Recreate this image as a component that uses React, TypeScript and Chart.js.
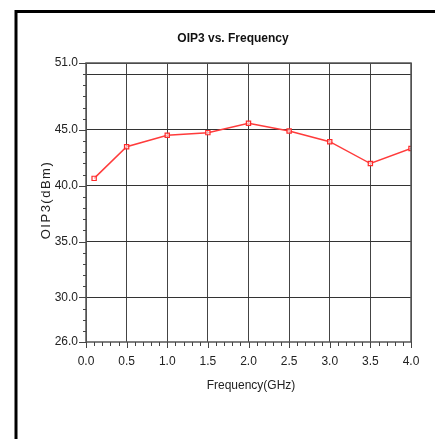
import React, { useEffect, useRef } from "react";
import { Chart, registerables } from "chart.js";

Chart.register(...registerables);

const frequencies = [0.1, 0.5, 1.0, 1.5, 2.0, 2.5, 3.0, 3.5, 4.0];
const oip3 = [40.66, 43.5, 44.52, 44.76, 45.6, 44.9, 43.95, 41.99, 43.34];
const yTickValues = [26, 30, 35, 40, 45, 50, 51];
const yLabelledValues = [26, 30, 35, 40, 45, 51];
const yGridValues = [30, 35, 40, 45, 50];

const TITLE = "OIP3 vs. Frequency";
const X_TITLE = "Frequency(GHz)";
const Y_TITLE = "OIP3(dBm)";

const FONT = "'Liberation Sans', Arial, sans-serif";

const decorPlugin = {
  id: "decor",
  beforeDraw(chart: any) {
    const ctx = chart.ctx;
    ctx.save();
    ctx.fillStyle = "#ffffff";
    ctx.fillRect(0, 0, chart.width, chart.height);
    ctx.restore();
  },
  afterDraw(chart: any) {
    const ctx = chart.ctx;
    const { left, right, top, bottom } = chart.chartArea;
    const xs = chart.scales.x;
    const ys = chart.scales.y;
    ctx.save();
    // outer frame
    ctx.strokeStyle = "#000";
    ctx.lineWidth = 3;
    ctx.beginPath();
    ctx.moveTo(16, 439);
    ctx.lineTo(16, 11.5);
    ctx.lineTo(435, 11.5);
    ctx.stroke();

    // plot border
    ctx.strokeStyle = "#555";
    ctx.lineWidth = 1.5;
    ctx.strokeRect(left, top, right - left, bottom - top);

    // ticks
    ctx.strokeStyle = "#444";
    ctx.lineWidth = 1;
    for (let v = 26; v <= 51; v++) {
      const y = Math.round(ys.getPixelForValue(v)) + 0.5;
      const major = yLabelledValues.includes(v);
      ctx.beginPath();
      ctx.moveTo(left - (major ? 7 : 3), y);
      ctx.lineTo(left, y);
      ctx.stroke();
    }
    for (let i = 0; i <= 40; i++) {
      const v = i / 10;
      const x = Math.round(xs.getPixelForValue(v)) + 0.5;
      const major = i % 5 === 0;
      ctx.beginPath();
      ctx.moveTo(x, bottom);
      ctx.lineTo(x, bottom + (major ? 6 : 4));
      ctx.stroke();
    }

    // title
    ctx.fillStyle = "#111";
    ctx.font = `bold 12px ${FONT}`;
    ctx.textAlign = "center";
    ctx.textBaseline = "middle";
    ctx.fillText(TITLE, 233, 39);

    // x title
    ctx.font = `12px ${FONT}`;
    ctx.fillStyle = "#222";
    ctx.fillText(X_TITLE, 251, 386);

    // y title
    ctx.translate(46, 200);
    ctx.rotate(-Math.PI / 2);
    ctx.font = `13px ${FONT}`;
    (ctx as any).letterSpacing = "1.5px";
    ctx.fillText(Y_TITLE, 0, 0);
    ctx.restore();
  },
};

export default function App() {
  const ref = useRef<HTMLCanvasElement | null>(null);
  useEffect(() => {
    if (!ref.current) return;
    const chart = new Chart(ref.current, {
      type: "line",
      data: {
        datasets: [
          {
            data: frequencies.map((f, i) => ({ x: f, y: oip3[i] })),
            borderColor: "#ff3b3b",
            borderWidth: 1.5,
            pointStyle: "rect",
            pointRadius: 3,
            pointBorderWidth: 1.2,
            pointBackgroundColor: "rgba(255,255,255,0.6)",
            pointBorderColor: "#ff2a2a",
            tension: 0,
          },
        ],
      },
      options: {
        responsive: false,
        animation: false,
        devicePixelRatio: 1,
        layout: { padding: { left: 0, top: 63, right: 24, bottom: 0 } },
        plugins: {
          legend: { display: false },
          title: { display: false },
          tooltip: { enabled: false },
        },
        scales: {
          x: {
            type: "linear",
            min: 0,
            max: 4,
            afterFit: (s: any) => {
              s.height = 97;
            },
            ticks: {
              stepSize: 0.5,
              padding: 12,
              color: "#222",
              font: { family: FONT, size: 12 },
              callback: (v: any) => Number(v).toFixed(1),
              maxRotation: 0,
              autoSkip: false,
            },
            grid: { color: "#444", lineWidth: 1, drawTicks: false },
            border: { display: false },
          },
          y: {
            type: "linear",
            min: 26,
            max: 51,
            afterBuildTicks: (s: any) => {
              s.ticks = yTickValues.map((v) => ({ value: v }));
            },
            afterFit: (s: any) => {
              s.width = 86;
            },
            ticks: {
              padding: 8,
              color: "#222",
              font: { family: FONT, size: 12 },
              autoSkip: false,
              callback: (v: any) => (yLabelledValues.includes(Number(v)) ? Number(v).toFixed(1) : ""),
            },
            grid: {
              drawTicks: false,
              lineWidth: 1,
              color: (c: any) =>
                yGridValues.includes(c.tick?.value) || c.tick?.value === 51 ? "#333" : "rgba(0,0,0,0)",
            },
            border: { display: false },
          },
        },
      },
      plugins: [decorPlugin],
    });
    return () => chart.destroy();
  }, []);
  return (
    <div style={{ position: "absolute", left: 0, top: 0, width: 435, height: 439, background: "#fff" }}>
      <canvas ref={ref} width={435} height={439} style={{ width: 435, height: 439, display: "block" }} />
    </div>
  );
}
